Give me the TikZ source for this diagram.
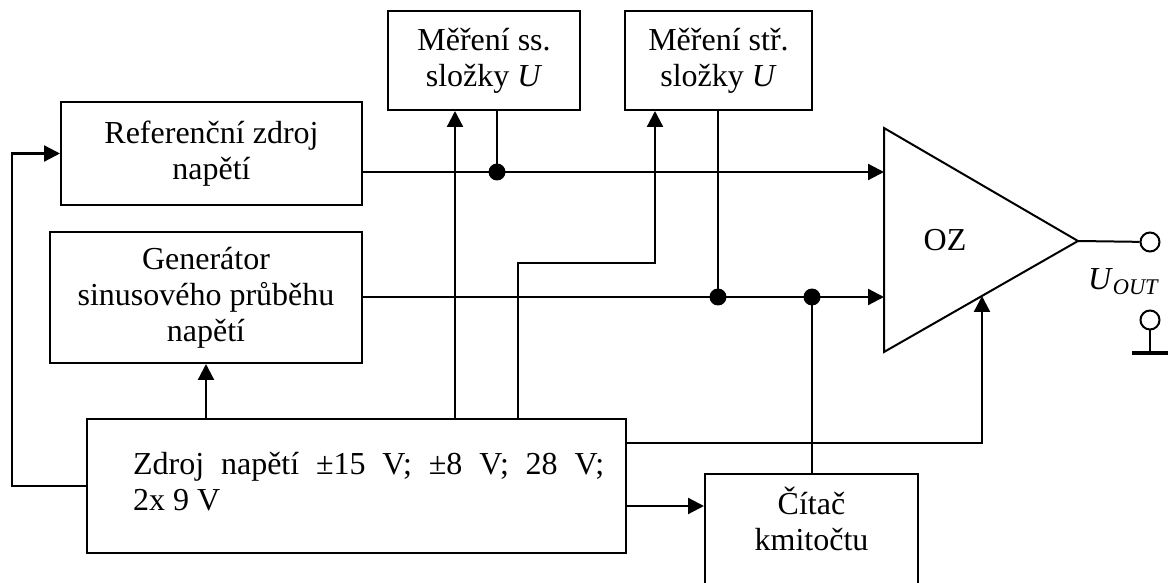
\documentclass[tikz,border=0pt]{standalone}
\usepackage{fontspec}
\setmainfont{Liberation Serif}
\usetikzlibrary{arrows.meta}
\begin{document}
\begin{tikzpicture}[x=0.5pt,y=-0.5pt,line width=1.15pt,
                    >={Triangle[length=8pt,width=8pt]}]
    \tikzset{block/.style= {draw,
                            rectangle,
                            line width=1pt,
                            align=center,
                            font=\fontsize{16}{18}\selectfont},
             txt/.style=   {inner sep=0pt,
                            align=center,
                            font=\fontsize{16}{18}\selectfont},
             term/.style=  {draw,
                            circle,
                            line width=1pt,
                            minimum size=9.5pt,
                            inner sep=0pt},
             dot/.style=   {fill,
                            circle,
                            minimum size=8.5pt,
                            inner sep=0pt},
            }
    \useasboundingbox (0,0) rectangle (1175,583);
    \path
    (211.5,153.5) node[block, minimum width=150.5pt, minimum height=51.5pt](ref) {Referenční zdroj\\napětí}
    (206,297.5)   node[block, minimum width=156pt, minimum height=65.5pt](gen) {Generátor\\sinusového průběhu\\napětí}
    (484,60.5)    node[block, minimum width=96pt, minimum height=49.5pt](mss) {Měření ss.\\složky \textit{U}}
    (718.5,60.5)  node[block, minimum width=93.5pt, minimum height=49.5pt](mstr) {Měření stř.\\složky \textit{U}}
    (356.5,486)   node[block, minimum width=269.5pt, minimum height=67pt](zdroj) {}
    (132,482)     node[txt, anchor=west, align=left](zdrojtxt) {\makebox[235.5pt][s]{Zdroj napětí ±15 V; ±8 V; 28 V;}\\2x 9 V}
    (811.5,473)   node[block, anchor=north, minimum width=106.5pt, minimum height=70pt](citac) {}
    (811.5,519)   node[txt](citactxt) {Čítač\\kmitočtu}
    (945,240)     node[txt](oz) {OZ}
    (1150,242)    node[term](uo) {}
    (1124,282)    node[txt](uout) {\textit{U}\textsubscript{\textit{OUT}}}
    (1150,320)    node[term](gnd) {}
    ;
    % operacni zesilovac
    \coordinate (top) at (884,128);
    \coordinate (tip) at (1078,241);
    \coordinate (bot) at (884,352);
    \coordinate (in1) at (884,172);
    \coordinate (in2) at (884,297);
    \coordinate (in3) at (982,296);
    \coordinate (gb)  at (1150,353);
    % odbocky
    \coordinate (j1) at (497,172);
    \coordinate (j2) at (718,297);
    \coordinate (j3) at (812,297);
    \coordinate (t1) at (455,419);
    \coordinate (t2) at (518,419);
    \coordinate (k1) at (655,263);
    \coordinate (e1) at (626,443);
    \coordinate (e2) at (626,506);

    \draw[line width=1pt] (top) -- (tip) -- (bot) -- cycle;
    \draw[line width=1pt] (tip) -- (uo);
    \draw[line width=1pt] (gnd) -- (gb);
    \draw[line width=2.2pt] ([xshift=-9pt]gb) -- ([xshift=9pt]gb);

    \draw[->]  (ref.east |- in1) -- (in1);
    \draw      (mss.south -| j1) -- (j1);
    \draw[->]  (t1) -- (t1 |- mss.south);
    \draw[->]  (t2) |- (k1) -- (k1 |- mstr.south);
    \draw      (mstr.south -| j2) -- (j2);
    \draw[->]  (gen.east |- in2) -- (in2);
    \draw      (j3) -- (j3 |- citac.north);
    \draw[->]  (e1) -| (in3);
    \draw[->]  (e2) -- (e2 -| citac.west);
    \draw[->]  (zdroj.north -| gen.south) -- (gen.south);
    \draw[->]  (zdroj.west) -- ++(-74,0) |- (ref.west);

    \node[dot] (d1) at (j1) {};
    \node[dot] (d2) at (j2) {};
    \node[dot] (d3) at (j3) {};
\end{tikzpicture}
\end{document}
